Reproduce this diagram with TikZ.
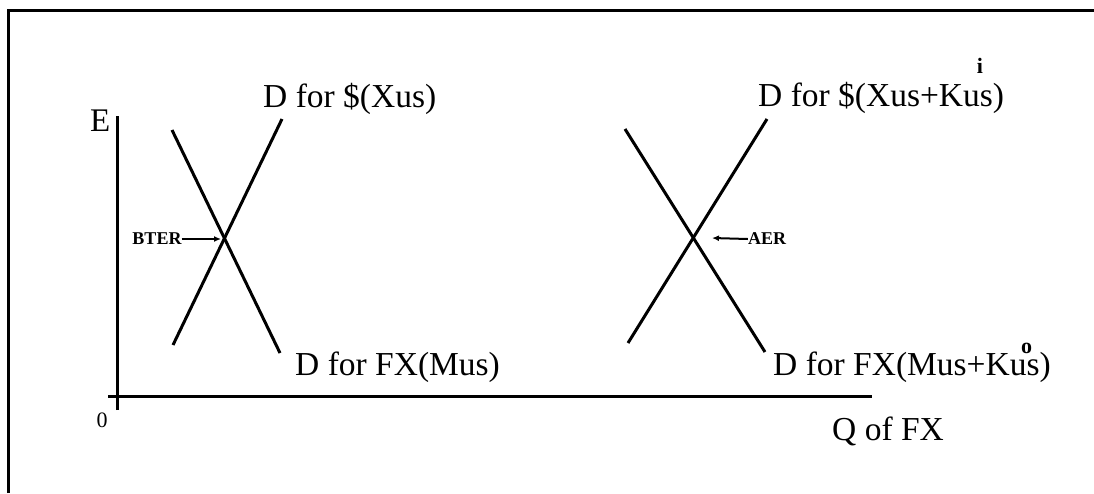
\documentclass[tikz,border=0pt]{standalone}
\usepackage{fontspec}
\setmainfont{Liberation Serif}
\usetikzlibrary{arrows.meta}
\newcommand{\supmark}[2]{\makebox[0pt]{\raisebox{#1}{\fontsize{22}{22}\selectfont\bfseries #2}}}
\begin{document}
\begin{tikzpicture}[x=1pt,y=-1pt,
  frame/.style={line width=3pt},
  curve/.style={line width=3pt},
  axis/.style={line width=3pt},
  big/.style={font=\fontsize{33.5}{40}\selectfont, inner sep=0pt, anchor=base west},
  small/.style={font=\fontsize{18}{20}\selectfont\bfseries, inner sep=0pt},
  ptr/.style={line width=2pt,-{Latex[length=7pt,width=6pt]}}]
\useasboundingbox (0,0) rectangle (1094,493);
% frame
\coordinate (f1) at (8.5,493);
\coordinate (f2) at (8.5,10.5);
\coordinate (f3) at (1094,10.5);
\draw[frame] (f1) -- (f2) -- (f3);
% axes
\coordinate (ytop) at (117,116);
\coordinate (ybot) at (117,410);
\coordinate (xl) at (108,396);
\coordinate (xr) at (872,396);
\draw[axis] (ybot) -- (ytop);
\draw[axis] (xl) -- (xr);
\node[big, font=\fontsize{33}{40}\selectfont] (E) at (90,131) {E};
\node[font=\fontsize{22}{24}\selectfont, inner sep=0pt] (zero) at (102,420) {0};
\node[big] (Q) at (832,440) {Q of FX};
% left cross
\coordinate (l1a) at (172,130);
\coordinate (l1b) at (280,353);
\coordinate (l2a) at (173,345);
\coordinate (l2b) at (282,119);
\draw[curve] (l1a) -- (l1b);
\draw[curve] (l2a) -- (l2b);
\coordinate (lx) at (224,239);
\node[small] (bter) at (157,239) {BTER};
\draw[ptr] (bter.east) -- ([xshift=-3pt]lx);
\node[big] (dx) at (263,107) {D for \$(Xus)};
\node[big] (dm) at (295,375) {D for FX(Mus)};
% right cross
\coordinate (r1a) at (625,129);
\coordinate (r1b) at (765,352);
\coordinate (r2a) at (628,343);
\coordinate (r2b) at (767,119);
\draw[curve] (r1a) -- (r1b);
\draw[curve] (r2a) -- (r2b);
\coordinate (rx) at (695,238);
\node[small] (aer) at (767,239) {AER};
\draw[ptr] (aer.west) -- ([xshift=17pt]rx);
\node[big] (dxk) at (758,106) {D for \$(Xus+Ku\supmark{33pt}{i}s)};
\node[big] (dmk) at (773,375) {D for FX(Mus+Ku\supmark{22pt}{o}s)};
\end{tikzpicture}
\end{document}
